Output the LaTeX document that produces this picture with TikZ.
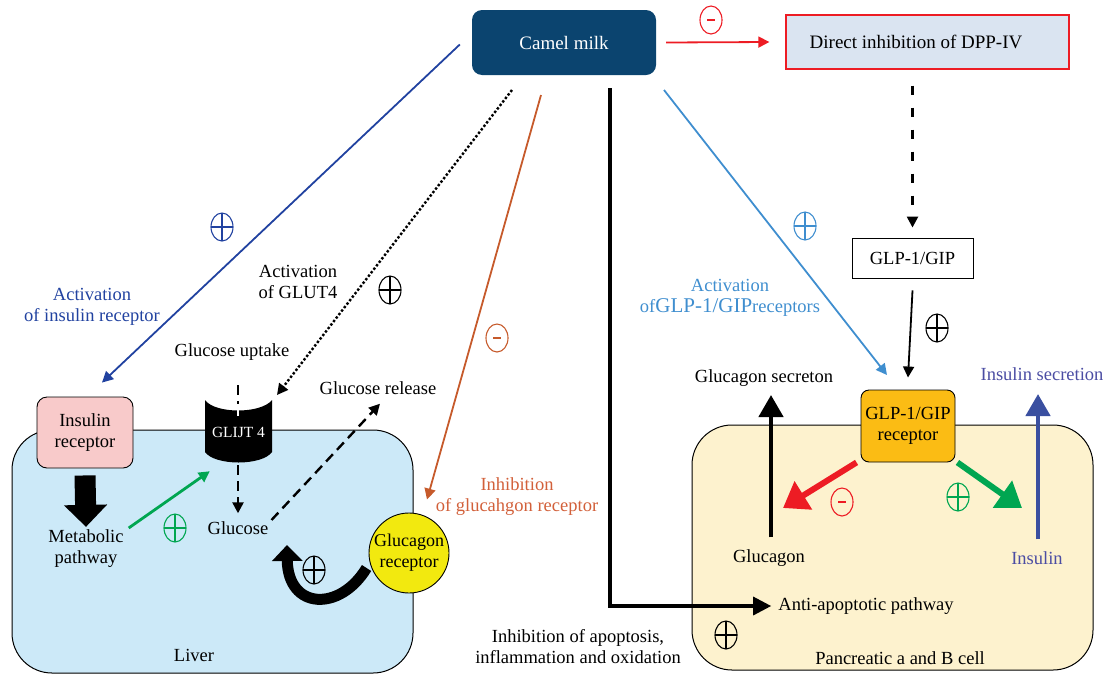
\documentclass[tikz,border=0pt]{standalone}
\usepackage{fontspec}
\setmainfont{Liberation Serif}
\usetikzlibrary{arrows.meta,shapes.geometric}
\definecolor{camelblue}{HTML}{0B446F}
\definecolor{dppfill}{HTML}{DAE4F1}
\definecolor{liverblue}{HTML}{CCE9F8}
\definecolor{cream}{HTML}{FDF2CE}
\definecolor{pinkfill}{HTML}{F8CACA}
\definecolor{orangefill}{HTML}{FBBC14}
\definecolor{yellowfill}{HTML}{F2E90F}
\definecolor{darkblue}{HTML}{2142A0}
\definecolor{lightblue}{HTML}{3F8ECF}
\definecolor{brown}{HTML}{C65A2B}
\definecolor{brownlbl}{HTML}{D2603A}
\definecolor{mygreen}{HTML}{00A651}
\definecolor{myred}{HTML}{ED1C24}
\definecolor{mypurple}{HTML}{4B4DA3}
\definecolor{insblue}{HTML}{3A4FA0}
\tikzset{
  lbl/.style={align=center, inner sep=1pt},
  arr/.style={-{Triangle[length=11pt,width=11pt]}, line width=1.8pt},
  fatarr/.style={-{Triangle[length=24pt,width=32pt]}, line width=6pt},
  upar/.style={-{Triangle[length=22pt,width=24pt]}, line width=4.5pt},
  sym/.style={ellipse, draw, line width=1.1pt, minimum width=22pt, minimum height=28pt, inner sep=0pt},
  plusc/.style={sym, draw=#1, path picture={
     \draw[#1, line width=1.1pt] (path picture bounding box.north) -- (path picture bounding box.south)
       (path picture bounding box.west) -- (path picture bounding box.east);}},
  minusc/.style={sym, draw=#1, path picture={
     \draw[#1, line width=1.1pt] ([xshift=-4pt]path picture bounding box.center) -- ([xshift=4pt]path picture bounding box.center);}},
  cellbox/.style={draw, line width=1pt, rounded corners=40pt, inner sep=0pt},
}
\begin{document}
\begin{tikzpicture}[x=1pt,y=-1pt, font=\fontsize{18.5}{21}\selectfont]
\useasboundingbox (0,0) rectangle (1107,675);

% ---------- cells ----------
\node[cellbox, fill=liverblue, minimum width=401pt, minimum height=243pt] (liver) at (212.5,551.5) {};
\node[cellbox, fill=cream, minimum width=401pt, minimum height=245pt] (pcell) at (892.5,547.5) {};

% ---------- top ----------
\node[rounded corners=10pt, fill=camelblue, text=white, minimum width=184pt, minimum height=65pt, font=\fontsize{19}{21}\selectfont] (camel) at (564,42.5) {Camel milk};
\node[draw=myred, fill=dppfill, line width=1.3pt, minimum width=283pt, minimum height=54pt, font=\fontsize{19}{21}\selectfont] (dpp) at (927.5,42) {\hspace*{-23pt}Direct inhibition of DPP-IV};
\draw[arr, myred] ([xshift=10pt]camel.east) -- ([xshift=-16pt]dpp.west);
\node[minusc=myred] (m1) at (711,20) {};

\node[draw, fill=white, line width=0.9pt, minimum width=121pt, minimum height=40pt] (glp) at (912.5,258) {GLP-1/GIP};
\draw[arr, line width=2.4pt, dash pattern=on 9pt off 13pt] ([yshift=-16pt]dpp.south -| glp.north) -- ([yshift=10pt]glp.north);

\node[rounded corners=8pt, draw, line width=0.9pt, fill=orangefill, minimum width=94pt, minimum height=72pt, inner sep=1pt, align=center, font=\fontsize{18.5}{21}\selectfont] (rec) at (908,426) {GLP-1/GIP\\receptor};
\draw[arr] ([yshift=-12pt]glp.south) -- ([yshift=12pt]rec.north);
\node[plusc=black] (p1) at (937,328) {};

% light blue
\coordinate (lbstart) at (664,90);
\coordinate (lbend) at (887,375);
\draw[arr, lightblue] (lbstart) -- (lbend);
\node[plusc=lightblue] (p2) at (805,226) {};
\node[lbl, text=lightblue] (actglp) at (730,298) {Activation\\of{\fontsize{21}{21}\selectfont GLP-1/GIP}receptors};

% pancreatic
\node[lbl] (glucagon) at (769,558) {Glucagon};
\node[lbl] (glusec) at (764,378) {Glucagon secreton};
\draw[upar] ([yshift=11pt]glucagon.north -| 771,0) -- (771,395);
\node[lbl, text=mypurple] (insulin) at (1037,558) {Insulin};
\node[lbl, text=mypurple] (inssec) at (1042,374) {Insulin secretion};
\draw[upar, insblue] ([yshift=11pt]insulin.north -| 1038,0) -- (1038,394);

\coordinate (redend) at (783,508);
\coordinate (greenend) at (1022,508);
\draw[fatarr, myred] ([xshift=-4pt]rec.south west) -- (redend);
\draw[fatarr, mygreen] ([xshift=2pt]rec.south east) -- (greenend);
\node[minusc=myred] (m2) at (842,502) {};
\node[plusc=mygreen] (p3) at (958,497) {};

\node[lbl] (antiap) at (866,606) {Anti-apoptotic pathway};
\draw[-{Triangle[length=18pt,width=18pt]}, line width=3.2pt] ([xshift=46pt,yshift=-13pt]camel.south) |- ([xshift=-6pt]antiap.west);
\node[plusc=black] (p4) at (726,635) {};
\node[lbl] (inhap) at (578,647) {Inhibition of apoptosis,\\inflammation and oxidation};
\node[lbl] (pcl) at (900,658) {Pancreatic a and B cell};

% ---------- liver side ----------
\node[rounded corners=10pt, draw, line width=0.9pt, fill=pinkfill, minimum width=96pt, minimum height=71pt, align=center] (ir) at (85,432.5) {Insulin\\receptor};
\node[lbl] (metab) at (86,549) {Metabolic\\pathway};
\draw[-{Triangle[length=22pt,width=42pt]}, line width=21pt] ([yshift=-7pt]ir.south) -- ([yshift=2pt]metab.north);

\node[lbl] (uptake) at (232,352) {Glucose uptake};
\node[lbl] (glucose) at (238,528) {Glucose};
\draw[arr, line width=2.4pt, dash pattern=on 10pt off 6pt] (238,385) -- ([yshift=7pt]glucose.north);
\fill (205,400) .. controls (215,414) and (261,414) .. (272,400) -- (272,452) .. controls (262,466) and (215,466) .. (205,452) -- cycle;
\draw[white, line width=2pt] (238,404) -- (238,416);
\node[text=white, font=\fontsize{15.5}{17}\selectfont, minimum width=67pt, minimum height=62pt, inner sep=0pt] (glut) at (238.5,432) {GLIJT 4};

\node[lbl] (release) at (378,388) {Glucose release};
\draw[arr, line width=2.4pt, dash pattern=on 10pt off 6pt] ([xshift=2pt,yshift=8pt]glucose.east) -- ([xshift=2pt,yshift=-8pt]release.south);

\draw[arr, line width=2.8pt, mygreen] ([xshift=4pt,yshift=21pt]metab.east) -- ([xshift=5pt,yshift=-8pt]glut.south west);
\node[plusc=mygreen] (p5) at (175,528) {};

\node[circle, draw, line width=0.9pt, fill=yellowfill, minimum size=80pt, inner sep=0pt, align=center, font=\fontsize{18}{21}\selectfont] (grec) at (409,553) {Glucagon\\receptor};
\draw[-{Triangle[length=16pt,width=30pt]}, line width=11pt] ([xshift=-2pt, yshift=-15pt]grec.west) .. controls (340,612) and (288,610) .. (287,545);
\node[plusc=black] (p6) at (314,570) {};
\node[lbl] (liverlbl) at (194,655) {Liver};

% camel milk to liver
\draw[arr, darkblue] ([xshift=-12pt,yshift=-2pt]camel.west) -- ([xshift=17pt,yshift=14pt]ir.north);
\node[plusc=darkblue] (p7) at (222,227) {};
\node[lbl, text=darkblue] (actir) at (92,307) {Activation\\of insulin receptor};

\coordinate (dotstart) at (512,90);
\coordinate (dotend) at (277,395);
\draw[arr, line width=2.4pt, dotted] (dotstart) -- (dotend);
\node[plusc=black] (p8) at (390,290) {};
\node[lbl] (actglut) at (298,282) {Activation\\of GLUT4};

\coordinate (brstart) at (541,95);
\draw[arr, brown] (brstart) -- ([xshift=18pt,yshift=13pt]grec.north);
\node[minusc=brown] (m3) at (497,338) {};
\node[lbl, text=brownlbl] (inhgr) at (517,497) {Inhibition\\of glucahgon receptor};
\end{tikzpicture}
\end{document}
